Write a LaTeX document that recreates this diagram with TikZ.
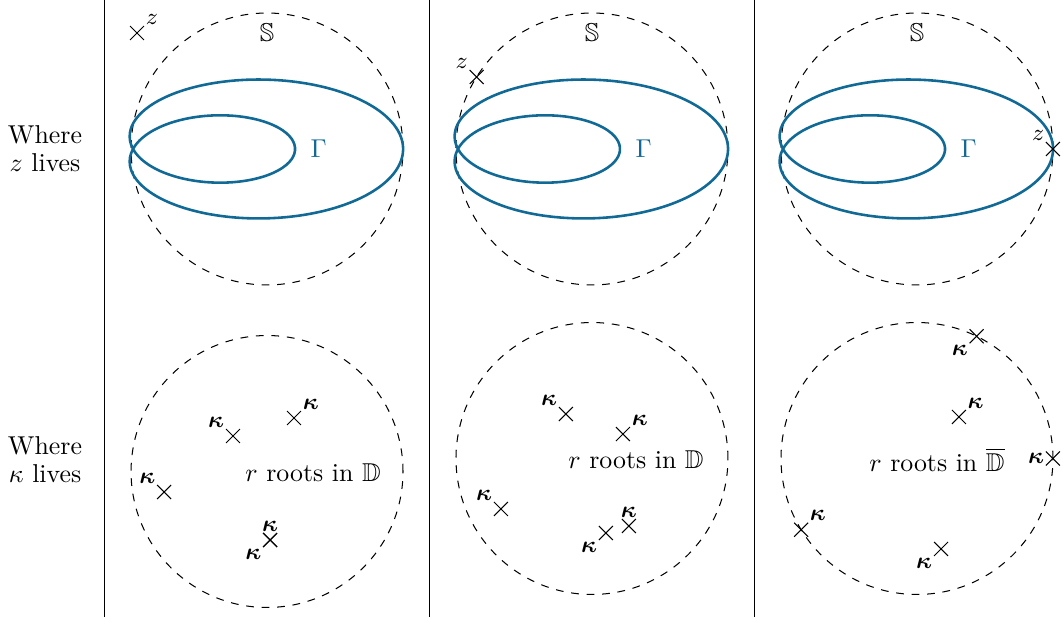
\documentclass[tikz,border=0pt]{standalone}
\usepackage{amsmath,amssymb}
\definecolor{gblue}{RGB}{17,106,150}
\usetikzlibrary{shapes.misc}
\tikzset{
  xmark/.style={cross out, draw, thin, minimum size=0.19cm, inner sep=0pt, outer sep=0pt},
  lbl/.style={font=\small, inner sep=0.5pt},
  unitdisk/.style={dashed, thin},
  gammaloop/.style={gblue, line width=1pt},
}
\newcommand{\kap}{\boldsymbol{\kappa}}

\begin{document}
\begin{tikzpicture}
    \useasboundingbox (0,0) rectangle (14.463,-8.449);
    \def\R{1.85}

    % Row labels
    \node[align=center] (rowz) at (0.612,-2.027) {Where\\[-1.2pt]$z$ lives};
    \node[align=center] (rowk) at (0.612,-6.258) {Where\\[-1.2pt]$\kappa$ lives};

    % Separators between the three cases
    \foreach \x [count=\i] in {1.422,5.843,10.265} {
      \coordinate (sep\i t) at (\x,0);
      \coordinate (sep\i b) at (\x,-8.395);
      \draw[thin] (sep\i t) -- (sep\i b);
    }

    % Top row: circle S and the curve Gamma (limacon, pole on the left)
    \foreach \cx [count=\i] in {3.633,8.054,12.476} {
      \begin{scope}[shift={(\cx,-2.027)}]
        \draw[unitdisk] (0,0) circle (\R);
        \node (S\i) at (0,1.59) {$\mathbb{S}$};
        \draw[gammaloop] plot[domain=0:360, samples=160, smooth]
          ({-1.823+(0.735+2.94*cos(\x))*cos(\x)}, {0.47*(0.735+2.94*cos(\x))*sin(\x)});
        \node[anchor=west, text=gblue] (G\i) at (0.47,0) {$\Gamma$};
      \end{scope}
    }

    % Position of z
    \node[xmark, label={[lbl]above right:$z$}] (z1) at (1.864,-0.449) {};
    \begin{scope}[shift={(8.054,-2.027)}]
      \node[xmark, label={[lbl]above left:$z$}] (z2) at (148:\R) {};
    \end{scope}
    \begin{scope}[shift={(12.476,-2.027)}]
      \node[xmark, label={[lbl]above left:$z$}] (z3) at (0:\R) {};
    \end{scope}

    % Bottom row, case 1: all roots inside D
    \begin{scope}[shift={(3.633,-6.415)}]
      \draw[unitdisk] (0,0) circle (\R);
      \node (txt1) at (0.626,-0.02) {$r$ roots in $\mathbb{D}$};
      \node[xmark, label={[lbl]above left:$\kap$}]  (k11) at (-0.463,0.483) {};
      \node[xmark, label={[lbl]above right:$\kap$}] (k12) at (0.367,0.728) {};
      \node[xmark, label={[lbl]above left:$\kap$}]  (k13) at (-1.401,-0.279) {};
      \node[xmark, label={[lbl]above:$\kap$}]       (k14) at (0.041,-0.932) {};
      \node[xmark, label={[lbl]below left:$\kap$}]  (k15) at (0.041,-0.932) {};
    \end{scope}

    % Bottom row, case 2
    \begin{scope}[shift={(8.054,-6.238)}]
      \draw[unitdisk] (0,0) circle (\R);
      \node (txt2) at (0.599,-0.02) {$r$ roots in $\mathbb{D}$};
      \node[xmark, label={[lbl]above left:$\kap$}]  (k21) at (-0.354,0.605) {};
      \node[xmark, label={[lbl]above right:$\kap$}] (k22) at (0.422,0.333) {};
      \node[xmark, label={[lbl]above left:$\kap$}]  (k23) at (-1.238,-0.687) {};
      \node[xmark, label={[lbl]below left:$\kap$}]  (k24) at (0.190,-1.014) {};
      \node[xmark, label={[lbl]above:$\kap$}]       (k25) at (0.503,-0.918) {};
    \end{scope}

    % Bottom row, case 3: roots on the boundary
    \begin{scope}[shift={(12.476,-6.238)}]
      \draw[unitdisk] (0,0) circle (\R);
      \node (txt3) at (0.272,-0.02) {$r$ roots in $\overline{\mathbb{D}}$};
      \node[xmark, label={[lbl]below left:$\kap$}]  (k31) at (64:\R) {};
      \node[xmark, label={[lbl]above right:$\kap$}] (k32) at (0.571,0.565) {};
      \node[xmark, label={[lbl]left:$\kap$}]        (k33) at (0:\R) {};
      \node[xmark, label={[lbl]above right:$\kap$}] (k34) at (211.6:\R) {};
      \node[xmark, label={[lbl]below left:$\kap$}]  (k35) at (0.327,-1.231) {};
    \end{scope}
\end{tikzpicture}
\end{document}
